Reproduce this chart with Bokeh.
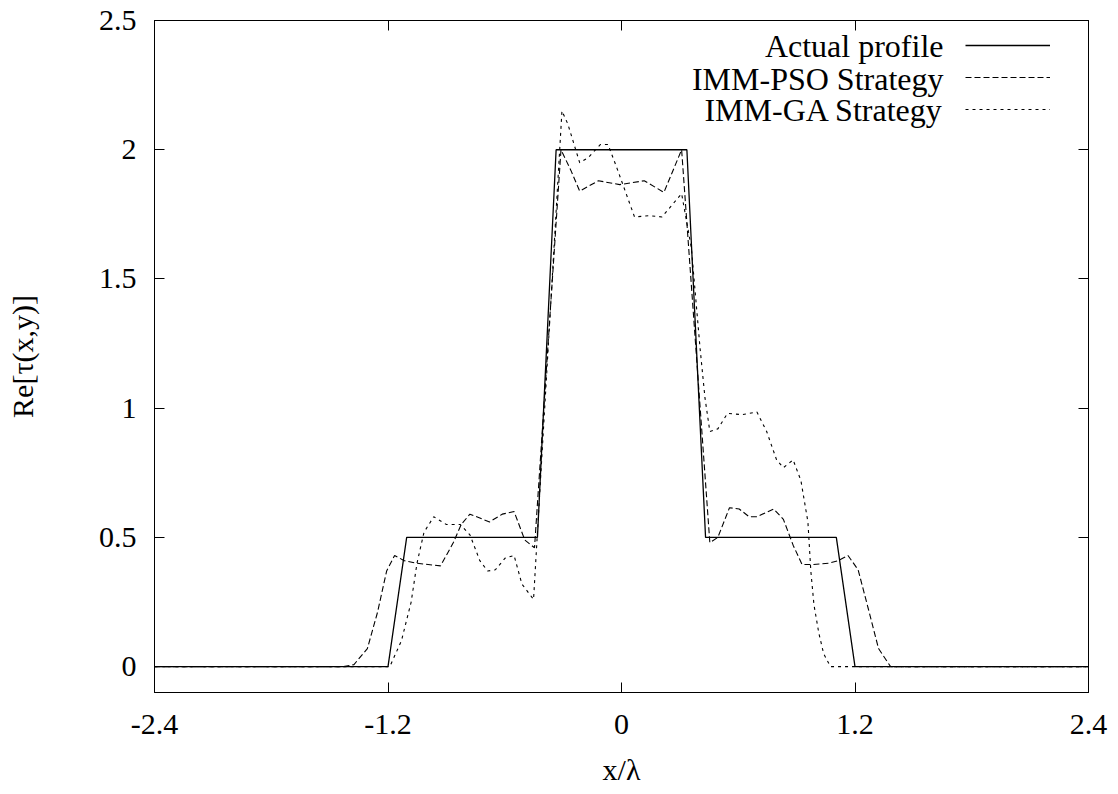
from bokeh.plotting import figure
from bokeh.models import (LinearAxis, FixedTicker, Range1d, Legend, LegendItem, Label)
from bokeh.embed import file_html
from bokeh.resources import INLINE

# ---- data ----
actual_x = [-2.4, -1.2, -1.104, -0.432, -0.336, 0.336, 0.432, 1.104, 1.2, 2.4]
actual_y = [0, 0, 0.5, 0.5, 2.0, 2.0, 0.5, 0.5, 0, 0]

pso_x = [-2.4, -1.43, -1.375, -1.306, -1.254, -1.207, -1.166, -1.116, -1.051, -0.930,
         -0.864, -0.824, -0.779, -0.678, -0.613, -0.552, -0.497, -0.447, -0.311, -0.260,
         -0.215, -0.119, -0.009, 0.117, 0.218, 0.309, 0.454, 0.495, 0.555, 0.605,
         0.656, 0.696, 0.782, 0.832, 0.882, 0.928, 0.983, 1.063, 1.114, 1.164,
         1.216, 1.268, 1.321, 1.383, 2.4]
pso_y = [0, 0, 0.008, 0.07, 0.21, 0.37, 0.43, 0.41, 0.40, 0.39,
         0.48, 0.55, 0.59, 0.56, 0.59, 0.60, 0.49, 0.46, 2.0, 1.92,
         1.84, 1.88, 1.865, 1.88, 1.835, 2.0, 0.48, 0.50, 0.615, 0.61,
         0.58, 0.58, 0.61, 0.57, 0.47, 0.395, 0.395, 0.40, 0.41, 0.43,
         0.375, 0.225, 0.07, 0.0, 0]

ga_x = [-2.4, -1.191, -1.131, -1.081, -1.051, -1.015, -0.965, -0.900, -0.829, -0.779,
        -0.728, -0.688, -0.648, -0.598, -0.552, -0.512, -0.452, -0.306, -0.276, -0.215,
        -0.170, -0.109, -0.069, -0.024, 0.067, 0.142, 0.208, 0.309, 0.359, 0.404,
        0.429, 0.454, 0.495, 0.545, 0.621, 0.696, 0.746, 0.797, 0.832, 0.882,
        0.922, 0.958, 0.973, 0.989, 1.014, 1.039, 1.074, 2.4]
ga_y = [0, 0, 0.10, 0.25, 0.40, 0.52, 0.58, 0.55, 0.55, 0.51,
        0.41, 0.37, 0.375, 0.42, 0.43, 0.32, 0.26, 2.15, 2.10, 1.95,
        1.97, 2.02, 2.02, 1.93, 1.74, 1.745, 1.74, 1.83, 1.62, 1.23,
        1.04, 0.91, 0.92, 0.98, 0.975, 0.985, 0.91, 0.80, 0.77, 0.80,
        0.72, 0.56, 0.37, 0.24, 0.13, 0.05, 0.0, 0]

x_ticks = [-2.4, -1.2, 0, 1.2, 2.4]
x_tick_labels = ["-2.4", "-1.2", "0", "1.2", "2.4"]
y_ticks = [0, 0.5, 1, 1.5, 2, 2.5]
y_tick_labels = ["0", "0.5", "1", "1.5", "2", "2.5"]

series_labels = ["Actual profile", "IMM-PSO Strategy", "IMM-GA Strategy"]

FONT = "Liberation Serif"
FS = "30px"
FS_LEG = "32px"

p = figure(width=1118, height=794, output_backend="svg", toolbar_location=None,
           x_range=Range1d(-2.4, 2.4), y_range=Range1d(-0.1, 2.5),
           x_axis_type=None, y_axis_type=None,
           min_border_left=154, min_border_right=30, min_border_top=20, min_border_bottom=102)
p.xgrid.visible = False
p.ygrid.visible = False
p.outline_line_color = "black"
p.outline_line_width = 1
p.background_fill_color = "white"
p.border_fill_color = "white"


def make_axis(ticks, labels, show_labels):
    ax = LinearAxis(ticker=FixedTicker(ticks=ticks))
    ax.major_tick_in = 10
    ax.major_tick_out = 0
    ax.minor_tick_line_color = None
    ax.axis_line_color = "black"
    ax.major_tick_line_color = "black"
    ax.major_label_text_font = FONT
    ax.major_label_text_color = "black"
    ax.major_label_text_font_size = FS
    if show_labels:
        ax.major_label_overrides = {t: l for t, l in zip(ticks, labels)}
    else:
        ax.major_label_overrides = {t: "" for t in ticks}
        ax.major_label_standoff = 0
        ax.major_label_text_alpha = 0
    ax.axis_label_text_font = FONT
    ax.axis_label_text_font_size = FS
    ax.axis_label_text_font_style = "normal"
    ax.axis_label_text_color = "black"
    return ax


xb = make_axis(x_ticks, x_tick_labels, True)
xb.axis_label = "x/λ"
xb.major_label_standoff = 22
xb.axis_label_standoff = 16
p.add_layout(xb, "below")

yl = make_axis(y_ticks, y_tick_labels, True)
yl.axis_label = "Re[τ(x,y)]"
yl.major_label_standoff = 18
yl.axis_label_standoff = 57
p.add_layout(yl, "left")

p.add_layout(make_axis(x_ticks, x_tick_labels, False), "above")
p.add_layout(make_axis(y_ticks, y_tick_labels, False), "right")

r1 = p.line(actual_x, actual_y, line_color="black", line_width=1.3)
r2 = p.line(pso_x, pso_y, line_color="black", line_width=1.1, line_dash="6 3")
r3 = p.line(ga_x, ga_y, line_color="black", line_width=1.1, line_dash="3 4")

legend = Legend(items=[LegendItem(label=series_labels[0], renderers=[r1]),
                       LegendItem(label=series_labels[1], renderers=[r2]),
                       LegendItem(label=series_labels[2], renderers=[r3])],
                location=(811, 567))
legend.label_text_font_size = "2px"
legend.label_text_alpha = 0
legend.label_width = 0
legend.label_standoff = 0
legend.label_height = 32
legend.glyph_width = 85
legend.glyph_height = 32
legend.spacing = 0
legend.padding = 0
legend.margin = 0
legend.border_line_alpha = 0
legend.background_fill_alpha = 0
p.add_layout(legend, "center")

for txt, yy in zip(series_labels, [647, 614, 583]):
    p.add_layout(Label(x=789, y=yy, x_units="screen", y_units="screen", text=txt,
                       text_align="right", text_baseline="middle",
                       text_font=FONT, text_font_size=FS_LEG, text_color="black"))

open("out.html", "w").write(file_html(p, INLINE))
